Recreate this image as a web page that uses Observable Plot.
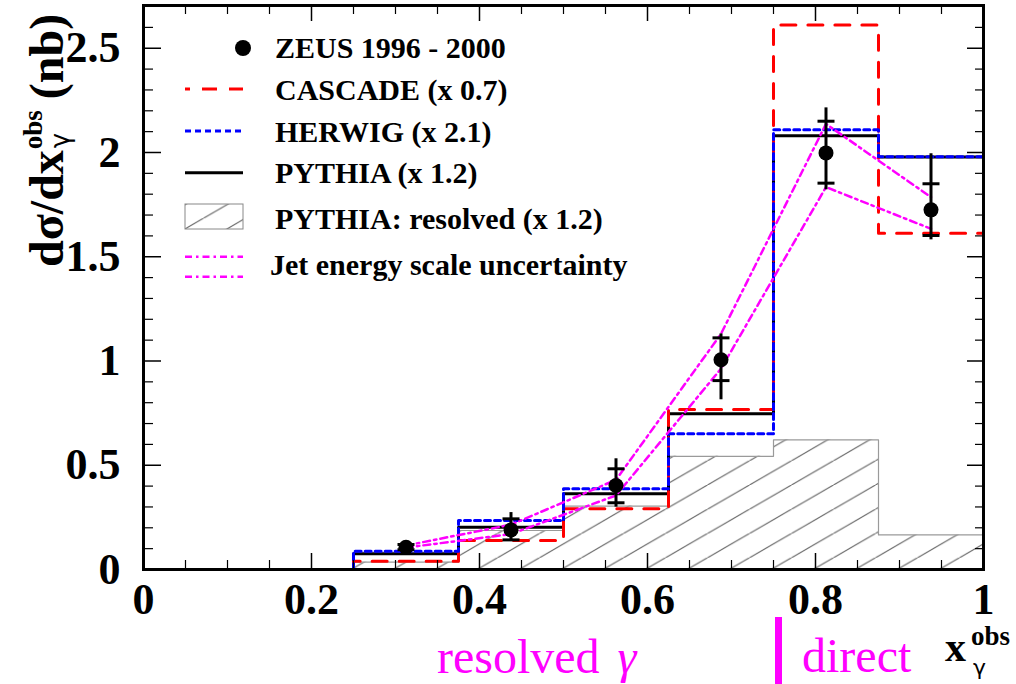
<!DOCTYPE html>
<html><head><meta charset="utf-8">
<script src="https://cdn.jsdelivr.net/npm/d3@7"></script>
<script src="https://cdn.jsdelivr.net/npm/@observablehq/plot@0.6"></script>
<style>
html,body{margin:0;padding:0;background:#fff;}
#chart{width:1016px;height:684px;}
</style></head><body><div id="chart"></div>
<script>
// ---- data ----
const binEdges = [0.25, 0.375, 0.5, 0.625, 0.75, 0.875, 1.0];
const cascade = [0.04, 0.139, 0.291, 0.767, 2.612, 1.613];
const herwig = [0.088, 0.235, 0.387, 0.651, 2.109, 1.98];
const pythia = [0.075, 0.203, 0.363, 0.747, 2.08, 1.978];
const pythiaResolved = [0.035, 0.187, 0.304, 0.543, 0.622, 0.166];
const zeusX = [0.3125, 0.4375, 0.5625, 0.6875, 0.8125, 0.9375];
const zeusY = [0.107, 0.19, 0.403, 1.006, 1.998, 1.725];
const zeusStatLo = [0.095, 0.142, 0.32, 0.906, 1.853, 1.602];
const zeusStatHi = [0.12, 0.243, 0.483, 1.111, 2.15, 1.85];
const zeusTotLo = [0.09, 0.136, 0.299, 0.814, 1.821, 1.581];
const zeusTotHi = [0.125, 0.273, 0.531, 1.13, 2.214, 1.994];
const jesUpper = [0.115, 0.215, 0.43, 1.13, 2.137, 1.786];
const jesLower = [0.105, 0.17, 0.355, 0.963, 1.834, 1.634];
const xTicks = [0, 0.2, 0.4, 0.6, 0.8, 1];
const xTickLabels = ["0", "0.2", "0.4", "0.6", "0.8", "1"];
const xMinorTicks = [0.05, 0.1, 0.15, 0.25, 0.3, 0.35, 0.45, 0.5, 0.55, 0.65, 0.7, 0.75, 0.85, 0.9, 0.95];
const yTicks = [0, 0.5, 1, 1.5, 2, 2.5];
const yTickLabels = ["0", "0.5", "1", "1.5", "2", "2.5"];
const yMinorTicks = [0.1, 0.2, 0.3, 0.4, 0.6, 0.7, 0.8, 0.9, 1.1, 1.2, 1.3, 1.4, 1.6, 1.7, 1.8, 1.9, 2.1, 2.2, 2.3, 2.4, 2.6];
const legendLabels = ["ZEUS 1996 - 2000", "CASCADE (x 0.7)", "HERWIG (x 2.1)", "PYTHIA (x 1.2)", "PYTHIA: resolved (x 1.2)", "Jet energy scale uncertainty"];

// ---- helpers ----
function steps(vals) {
  const pts = [{x: binEdges[0], y: 0}];
  vals.forEach((v, i) => pts.push({x: binEdges[i], y: v}));
  pts.push({x: binEdges[binEdges.length - 1], y: vals[vals.length - 1]});
  pts.push({x: binEdges[binEdges.length - 1], y: 0});
  return pts;
}
const zeus = zeusX.map((x, i) => ({x, y: zeusY[i], sLo: zeusStatLo[i], sHi: zeusStatHi[i], tLo: zeusTotLo[i], tHi: zeusTotHi[i]}));
const jesU = zeusX.map((x, i) => ({x, y: jesUpper[i]}));
const jesL = zeusX.map((x, i) => ({x, y: jesLower[i]}));
const hbar = {draw(ctx, size) { const r = Math.sqrt(size / Math.PI); ctx.moveTo(-r, 0); ctx.lineTo(r, 0); }};

const W = 1016, H = 684, mL = 143, mR = 33, mT = 5, mB = 115;
const fw = W - mL - mR, fh = H - mT - mB;
const SERIF = "'Liberation Serif', 'Times New Roman', serif";
const MAG = "#ff00ff";
const jesDash = "7,4,2.5,4";

const plot = Plot.plot({
  width: W, height: H,
  marginLeft: mL, marginRight: mR, marginTop: mT, marginBottom: mB,
  style: {fontFamily: SERIF, background: "white", color: "black"},
  x: {domain: [0, 1], axis: null},
  y: {domain: [0, 2.705], axis: null},
  marks: [
    Plot.areaY(steps(pythiaResolved), {x: "x", y: "y", curve: "step-after", fill: "url(#hatch)"}),
    Plot.line(steps(pythiaResolved), {x: "x", y: "y", curve: "step-after", stroke: "#9a9a9a", strokeWidth: 1.2}),
    Plot.line(steps(pythia), {x: "x", y: "y", curve: "step-after", stroke: "black", strokeWidth: 3}),
    Plot.line(steps(cascade), {x: "x", y: "y", curve: "step-after", stroke: "#ff0000", strokeWidth: 3, strokeDasharray: "15,12"}),
    Plot.line(steps(herwig), {x: "x", y: "y", curve: "step-after", stroke: "#0000ff", strokeWidth: 3, strokeDasharray: "6,4"}),
    Plot.line(jesU, {x: "x", y: "y", curve: "linear", stroke: MAG, strokeWidth: 2.5, strokeDasharray: jesDash}),
    Plot.line(jesL, {x: "x", y: "y", curve: "linear", stroke: MAG, strokeWidth: 2.5, strokeDasharray: jesDash}),
    Plot.ruleX(zeus, {x: "x", y1: "tLo", y2: "tHi", stroke: "black", strokeWidth: 3}),
    Plot.dot(zeus, {x: "x", y: "sLo", symbol: hbar, r: 8.5, fill: "none", stroke: "black", strokeWidth: 3}),
    Plot.dot(zeus, {x: "x", y: "sHi", symbol: hbar, r: 8.5, fill: "none", stroke: "black", strokeWidth: 3}),
    Plot.dot(zeus, {x: "x", y: "y", r: 7.5, fill: "black", stroke: "none"}),
    // inward ticks
    Plot.tickX(xTicks, {x: d => d, insetTop: fh - 16, stroke: "black", strokeWidth: 1.5}),
    Plot.tickX(xMinorTicks, {x: d => d, insetTop: fh - 9, stroke: "black", strokeWidth: 1.2}),
    Plot.tickX(xTicks, {x: d => d, insetBottom: fh - 16, stroke: "black", strokeWidth: 1.5}),
    Plot.tickX(xMinorTicks, {x: d => d, insetBottom: fh - 9, stroke: "black", strokeWidth: 1.2}),
    Plot.tickY(yTicks, {y: d => d, insetRight: fw - 18, stroke: "black", strokeWidth: 1.5}),
    Plot.tickY(yMinorTicks, {y: d => d, insetRight: fw - 10, stroke: "black", strokeWidth: 1.2}),
    Plot.tickY(yTicks, {y: d => d, insetLeft: fw - 16, stroke: "black", strokeWidth: 1.5}),
    Plot.tickY(yMinorTicks, {y: d => d, insetLeft: fw - 8, stroke: "black", strokeWidth: 1.2}),
    Plot.axisX(xTicks, {tickSize: 0, tickPadding: 13, tickFormat: d => xTickLabels[xTicks.indexOf(d)], fontSize: 44, fontWeight: "bold", fontFamily: SERIF, label: null}),
    Plot.axisY(yTicks, {tickSize: 0, tickPadding: 23, tickFormat: d => yTickLabels[yTicks.indexOf(d)], fontSize: 44, fontWeight: "bold", fontFamily: SERIF, label: null}),
    Plot.frame({stroke: "black", strokeWidth: 3})
  ]
});

document.getElementById("chart").appendChild(plot);
const svg = d3.select(plot);

// hatch pattern
const defs = svg.insert("defs", ":first-child");
const pw = 42, ph = 24.25;
const pat = defs.append("pattern").attr("id", "hatch").attr("patternUnits", "userSpaceOnUse")
  .attr("width", pw).attr("height", ph).attr("x", 35.5).attr("y", 0);
pat.append("path").attr("d", `M${-pw},${2 * ph}L${2 * pw},${-ph}`).attr("stroke", "#444").attr("stroke-width", 1).attr("fill", "none");

// legend
const L = svg.append("g").attr("font-family", SERIF).attr("font-weight", "bold").attr("font-size", 30).attr("fill", "black").attr("text-anchor", "start");
const lx1 = 185, lx2 = 243, tx = 275;
L.append("circle").attr("cx", 243).attr("cy", 48).attr("r", 8).attr("fill", "black");
L.append("text").attr("x", tx).attr("y", 58).text(legendLabels[0]);
L.append("line").attr("x1", lx1).attr("x2", lx2).attr("y1", 89).attr("y2", 89).attr("stroke", "#ff0000").attr("stroke-width", 3).attr("stroke-dasharray", "15,12").attr("stroke-dashoffset", 10);
L.append("text").attr("x", tx).attr("y", 99.5).text(legendLabels[1]);
L.append("line").attr("x1", lx1).attr("x2", lx2).attr("y1", 131).attr("y2", 131).attr("stroke", "#0000ff").attr("stroke-width", 3).attr("stroke-dasharray", "6,4");
L.append("text").attr("x", tx).attr("y", 141.5).text(legendLabels[2]);
L.append("line").attr("x1", lx1).attr("x2", lx2).attr("y1", 172.7).attr("y2", 172.7).attr("stroke", "black").attr("stroke-width", 3);
L.append("text").attr("x", tx).attr("y", 183).text(legendLabels[3]);
L.append("rect").attr("x", lx1).attr("y", 204).attr("width", 58).attr("height", 25).attr("fill", "url(#hatch)").attr("stroke", "#888").attr("stroke-width", 1);
L.append("text").attr("x", tx).attr("y", 229).text(legendLabels[4]);
[256.7, 276.7].forEach(y => L.append("line").attr("x1", lx1).attr("x2", lx2).attr("y1", y).attr("y2", y).attr("stroke", MAG).attr("stroke-width", 2.5).attr("stroke-dasharray", jesDash));
L.append("text").attr("x", 270).attr("y", 275).text(legendLabels[5]);

// y axis title (rotated)
const yt = svg.append("g").attr("transform", "translate(63,267) rotate(-90)").attr("font-family", SERIF).attr("font-weight", "bold").attr("fill", "black").attr("text-anchor", "start");
const t1 = yt.append("text").attr("x", 0).attr("y", 0).attr("font-size", 48).text("dσ/dx");
const l1 = t1.node().getComputedTextLength();
const t2 = yt.append("text").attr("x", l1 + 1).attr("y", -21).attr("font-size", 27).text("obs");
const l2 = t2.node().getComputedTextLength();
yt.append("text").attr("x", l1 + 2).attr("y", 6).attr("font-size", 26).attr("font-weight", "normal").attr("font-family", "'DejaVu Sans', sans-serif").text("γ");
yt.append("text").attr("x", l1 + l2 + 12).attr("y", 0).attr("font-size", 48).text("(nb)");

// x axis title
const xt = svg.append("g").attr("font-family", SERIF).attr("font-weight", "bold").attr("fill", "black").attr("text-anchor", "start");
xt.append("text").attr("x", 945).attr("y", 661).attr("font-size", 42).text("x");
xt.append("text").attr("x", 971).attr("y", 645).attr("font-size", 27).text("obs");
xt.append("text").attr("x", 973).attr("y", 675).attr("font-size", 22).attr("font-weight", "normal").attr("font-family", "'DejaVu Sans', sans-serif").text("γ");

// resolved / direct annotation
const A = svg.append("g").attr("font-family", SERIF).attr("fill", MAG).attr("font-size", 48).attr("text-anchor", "start");
const rt = A.append("text").attr("x", 437).attr("y", 673);
rt.append("tspan").text("resolved");
rt.append("tspan").attr("dx", 18).attr("font-style", "italic").text("γ");
A.append("rect").attr("x", 775).attr("y", 617).attr("width", 7).attr("height", 67).attr("fill", MAG);
A.append("text").attr("x", 802).attr("y", 672).text("direct");
</script></body></html>
